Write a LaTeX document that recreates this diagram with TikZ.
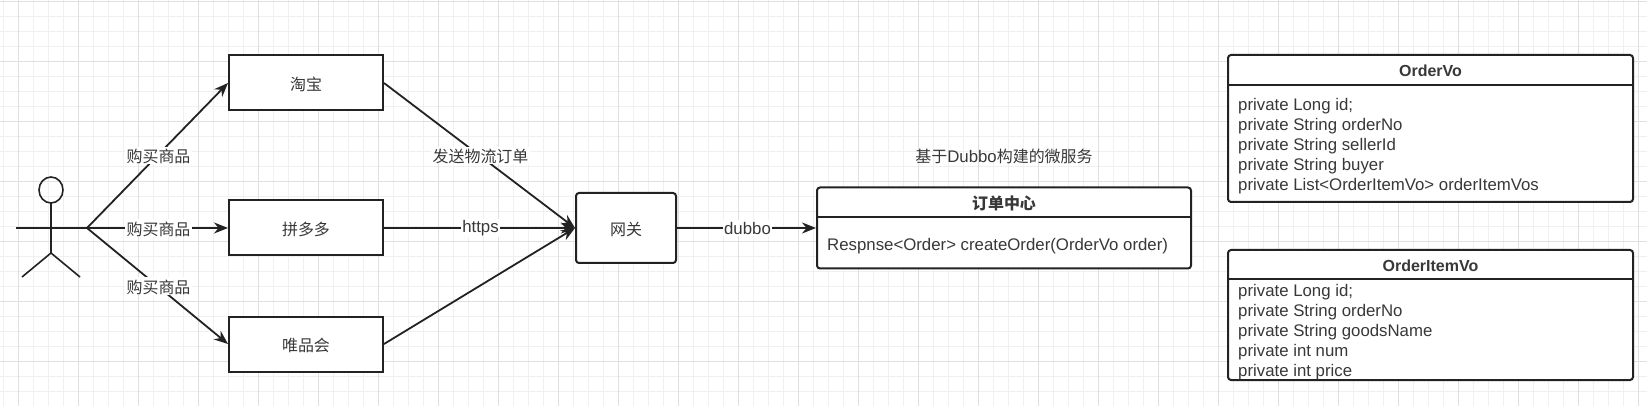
\documentclass[tikz,border=0pt]{standalone}
\usepackage{fontspec}
\setmainfont{Liberation Sans}
\newfontfamily\cjk[Scale=0.95]{Noto Sans CJK SC}
\usetikzlibrary{arrows.meta}
\definecolor{inkdark}{RGB}{34, 34, 34}
\definecolor{gridminor}{RGB}{240, 240, 240}
\definecolor{gridmajor}{RGB}{224, 224, 224}
\newcommand{\cn}[1]{\raisebox{-1.2pt}[\height][\depth]{\cjk #1}}
\tikzset{
    txt/.style={font=\fontsize{16.8}{20}\selectfont, text=inkdark!90!white},
    head/.style={txt, font=\fontsize{16}{20}\selectfont\bfseries},
    sysbox/.style={draw=inkdark, line width=2pt, fill=white, txt, inner sep=0pt},
    classbox/.style={sysbox, rounded corners=3pt},
    flow/.style={draw=inkdark, line width=1.8pt, -{Stealth[length=14pt,width=11pt]}},
    stick/.style={draw=inkdark, line width=1.6pt},
    lbl/.style={txt, fill=white, inner sep=1.5pt, xshift=1pt},
    body/.style={txt, anchor=north west, align=left, inner sep=0pt}
}
\begin{document}
\begin{tikzpicture}[x=1pt, y=-1pt]
    \useasboundingbox (0,0) rectangle (1647,406);
    \fill[white] (0,0) rectangle (1647,406);
    % grid
    \foreach \gx in {3.3,18.3,...,1647} \draw[gridminor, line width=1pt] (\gx,0) -- (\gx,406);
    \foreach \gy in {1.7,16.7,...,406} \draw[gridminor, line width=1pt] (0,\gy) -- (1647,\gy);
    \foreach \gx in {18.3,78.3,...,1647} \draw[gridmajor, line width=1pt] (\gx,0) -- (\gx,406);
    \foreach \gy in {1.7,61.7,...,406} \draw[gridmajor, line width=1pt] (0,\gy) -- (1647,\gy);
    % actor
    \draw[stick] (51,190) ellipse (12 and 13);
    \coordinate (neck) at (51,203);
    \coordinate (hip) at (51,253);
    \coordinate (armL) at (16,228);
    \coordinate (buyer) at (87,228);
    \coordinate (legL) at (22,277);
    \coordinate (legR) at (80,277);
    \draw[stick] (neck) -- (hip);
    \draw[stick] (armL) -- (buyer);
    \draw[stick] (legL) -- (hip) -- (legR);
    % shops
    \node[sysbox, minimum width=154pt, minimum height=55pt] (taobao) at (306,83) {\cn{淘宝}};
    \node[sysbox, minimum width=154pt, minimum height=55pt] (pdd) at (306,228) {\cn{拼多多}};
    \node[sysbox, minimum width=154pt, minimum height=55pt] (vip) at (306,344) {\cn{唯品会}};
    \node[classbox, minimum width=100pt, minimum height=70pt] (gateway) at (626,228) {\cn{网关}};
    % order service
    \node[txt] (svcTitle) at (1004,156) {{\cjk 基于}Dubbo{\cjk 构建的微服务}};
    \node[classbox, minimum width=374pt, minimum height=81pt] (orderCenter) at (1004,228) {};
    \coordinate (orderCenterL) at (817,217);
    \coordinate (orderCenterR) at (1191,217);
    \draw[stick, line width=2pt] (orderCenterL) -- (orderCenterR);
    \node[txt] (orderCenterHead) at (1004,203) {\cjk\bfseries 订单中心};
    \node[body] (orderCenterBody) at (827,238) {Respnse<Order> createOrder(OrderVo order)};
    % vo classes
    \node[classbox, minimum width=405pt, minimum height=147pt] (orderVo) at (1430.5,128.5) {};
    \coordinate (orderVoL) at (1228,85);
    \coordinate (orderVoR) at (1633,85);
    \draw[stick, line width=2pt] (orderVoL) -- (orderVoR);
    \node[head] (orderVoHead) at (1430.5,70.5) {OrderVo};
    \node[body] (orderVoBody) at (1238,98) {private Long id;\\private String orderNo\\private String sellerId\\private String buyer\\private List<OrderItemVo> orderItemVos};
    \node[classbox, minimum width=405pt, minimum height=130pt] (itemVo) at (1430.5,315) {};
    \coordinate (itemVoL) at (1228,279);
    \coordinate (itemVoR) at (1633,279);
    \draw[stick, line width=2pt] (itemVoL) -- (itemVoR);
    \node[head] (itemVoHead) at (1430.5,266) {OrderItemVo};
    \node[body] (itemVoBody) at (1238,284) {private Long id;\\private String orderNo\\private String goodsName\\private int num\\private int price};
    % connectors
    \draw[flow] (buyer) -- node[lbl] {\cn{购买商品}} (taobao.west);
    \draw[flow] (buyer) -- node[lbl] {\cn{购买商品}} (pdd.west);
    \draw[flow] (buyer) -- node[lbl] {\cn{购买商品}} (vip.west);
    \draw[flow] (taobao.east) -- node[lbl] {\cn{发送物流订单}} (gateway.west);
    \draw[flow] (pdd.east) -- node[lbl] {https} (gateway.west);
    \draw[flow] (vip.east) -- (gateway.west);
    \draw[flow] (gateway.east) -- node[lbl] {dubbo} (orderCenter.west);
\end{tikzpicture}
\end{document}
